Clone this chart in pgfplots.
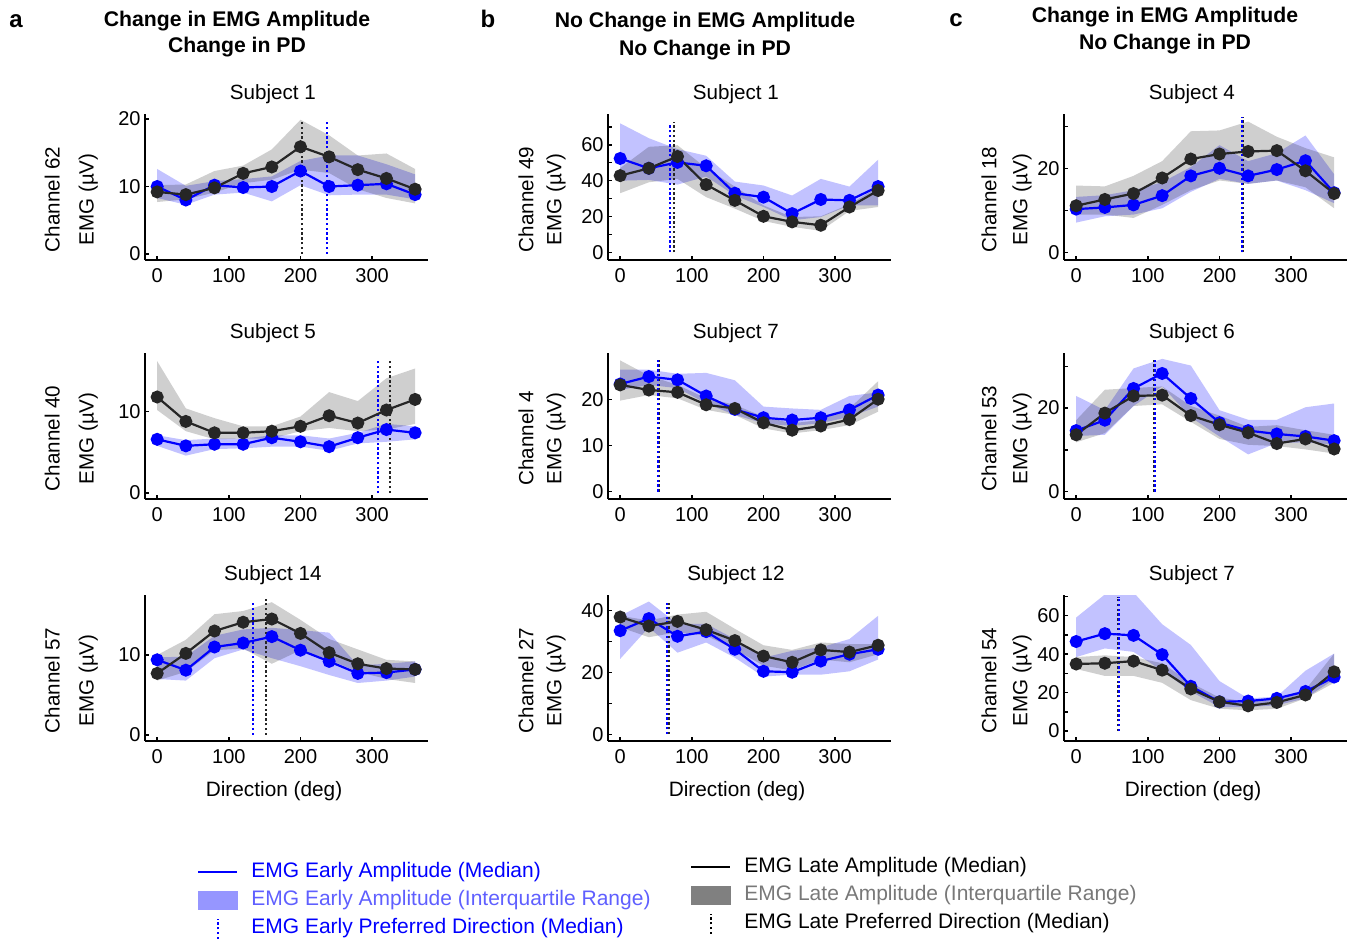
\documentclass[border=0pt]{standalone}
\usepackage{fontspec}
\setmainfont{Liberation Sans}
\usepackage{pgfplots}
\pgfplotsset{compat=1.18}
\usepackage{pgfplotstable}
\usepgfplotslibrary{fillbetween}

\definecolor{lateblack}{RGB}{38,38,38}
\definecolor{earlytxt}{RGB}{95,95,255}
\definecolor{earlyrect}{RGB}{150,150,255}
\definecolor{latetxt}{RGB}{120,120,120}
\definecolor{laterect}{RGB}{128,128,128}

% deg: direction; eb/el/eh: early median, lower and upper quartile; lb/ll/lh: late
\pgfplotstableread{
deg eb el eh lb ll lh
0 10.0 8.3 12.6 9.2 7.7 10.2
40 8.0 7.3 10.1 8.8 8.1 10.3
80 10.2 8.8 10.8 9.8 9.1 12.3
120 9.85 9.1 11.1 11.95 10.5 13.1
160 10.0 7.8 11.5 12.9 11.0 15.5
200 12.3 10.2 13.8 15.9 12.5 19.9
240 10.0 8.7 14.6 14.4 12.0 17.6
280 10.2 8.8 14.6 12.5 9.6 14.6
320 10.4 8.8 13.3 11.2 8.3 14.9
360 8.8 8.1 11.8 9.6 7.5 12.6
}\tAa
\pgfplotstableread{
deg eb el eh lb ll lh
0 52.4 40.0 72.0 42.8 33.0 47.0
40 46.9 40.4 63.7 46.9 39.1 58.9
80 50.2 37.8 57.6 53.5 41.0 59.8
120 48.3 42.3 53.9 37.8 30.8 47.0
160 33.0 31.7 39.5 29.0 24.4 36.7
200 30.8 25.3 37.3 20.1 17.5 26.2
240 21.6 17.9 31.7 17.0 14.2 19.7
280 29.5 19.7 41.0 15.1 12.0 20.1
320 29.0 26.2 36.7 25.3 23.1 26.8
360 36.7 26.2 51.7 34.5 25.3 36.3
}\tBa
\pgfplotstableread{
deg eb el eh lb ll lh
0 10.3 7.1 13.2 11.1 9.0 15.9
40 10.7 8.6 13.6 12.6 9.0 15.7
80 11.3 9.0 14.8 14.0 8.2 18.2
120 13.5 10.5 16.7 17.7 11.3 21.7
160 18.2 14.4 20.3 22.2 14.8 28.8
200 20.0 17.5 25.5 23.4 17.1 29.0
240 18.2 16.3 21.7 24.0 16.3 31.1
280 19.7 17.1 23.6 24.2 17.1 27.5
320 21.8 14.8 27.8 19.4 15.5 24.8
360 14.2 11.7 18.6 14.0 10.5 22.6
}\tCa
\pgfplotstableread{
deg eb el eh lb ll lh
0 6.6 5.8 7.1 11.8 10.2 16.2
40 5.8 4.6 6.5 8.8 7.6 10.4
80 6.0 5.4 6.7 7.4 6.6 9.2
120 6.0 5.5 6.7 7.4 6.7 8.2
160 6.8 5.7 7.1 7.6 6.7 8.2
200 6.3 5.7 7.1 8.2 7.6 9.4
240 5.7 5.2 6.7 9.5 8.0 12.4
280 6.8 6.1 7.4 8.6 7.6 11.3
320 7.8 6.3 8.5 10.2 7.8 14.1
360 7.4 6.6 8.2 11.5 8.5 15.3
}\tAb
\pgfplotstableread{
deg eb el eh lb ll lh
0 23.3 22.0 26.4 23.1 19.7 28.4
40 24.9 23.1 26.4 22.0 20.9 25.1
80 24.2 22.4 25.5 21.5 20.2 23.1
120 20.7 19.1 25.7 18.8 17.7 20.2
160 17.8 16.6 24.1 18.0 16.6 18.8
200 16.0 14.8 18.4 14.9 13.7 16.2
240 15.5 14.2 18.0 13.3 12.6 14.8
280 16.0 14.8 17.7 14.2 13.3 15.5
320 17.7 16.2 20.7 15.6 14.4 18.0
360 20.9 18.4 21.5 20.0 17.3 23.9
}\tBb
\pgfplotstableread{
deg eb el eh lb ll lh
0 14.6 13.3 22.9 13.6 11.8 17.1
40 17.1 13.6 19.5 18.8 14.0 24.4
80 24.7 20.5 29.5 22.9 20.5 24.8
120 28.3 25.2 31.8 23.1 20.9 25.2
160 22.3 17.8 30.2 18.2 16.7 20.5
200 16.5 13.2 19.5 16.0 12.6 18.2
240 14.6 8.9 17.2 14.1 11.2 15.5
280 13.8 11.6 17.2 11.5 10.9 15.9
320 13.2 11.8 20.2 12.6 10.1 14.7
360 12.2 11.2 21.1 10.2 9.1 13.6
}\tCb
\pgfplotstableread{
deg eb el eh lb ll lh
0 9.4 7.0 9.7 7.7 6.8 10.0
40 8.1 6.8 9.8 10.2 7.9 11.9
80 11.0 9.6 12.4 13.0 10.6 15.1
120 11.5 10.7 13.2 14.1 10.8 15.5
160 12.3 9.6 13.4 14.5 8.9 16.6
200 10.6 8.6 13.1 12.7 10.6 14.4
240 9.2 7.5 12.8 10.3 9.4 12.0
280 7.7 6.5 8.7 8.9 7.9 10.7
320 7.8 6.8 8.9 8.3 7.0 9.4
360 8.2 7.3 9.2 8.2 6.5 9.2
}\tAc
\pgfplotstableread{
deg eb el eh lb ll lh
0 33.4 24.3 38.2 37.8 34.5 38.2
40 37.3 34.5 42.8 34.9 31.3 36.7
80 31.6 26.3 35.6 36.4 32.9 38.6
120 33.1 29.6 35.6 33.7 31.8 39.5
160 27.4 24.7 30.7 30.2 27.4 34.0
200 20.3 18.6 24.7 25.2 22.1 28.7
240 20.0 19.2 26.9 23.2 20.6 27.2
280 23.6 19.2 28.0 27.2 24.1 29.6
320 25.8 20.3 30.7 26.5 23.2 29.1
360 27.4 24.1 38.2 28.7 25.8 29.1
}\tBc
\pgfplotstableread{
deg eb el eh lb ll lh
0 46.6 38.5 59.1 34.9 32.3 38.5
40 50.7 43.0 71.1 35.3 28.7 39.4
80 49.8 41.2 72.2 36.4 28.7 38.5
120 39.8 31.4 55.6 31.7 25.1 35.3
160 23.3 20.6 44.8 21.9 16.1 25.1
200 15.2 12.5 26.0 15.2 11.6 17.4
240 15.6 12.5 17.0 13.1 10.8 15.2
280 17.0 13.4 17.9 14.9 11.6 17.0
320 20.6 17.0 31.4 18.8 17.0 21.5
360 28.1 26.9 40.3 30.8 25.1 40.3
}\tCc

\pgfplotsset{
  panel/.style={
    scale only axis, width=141.5pt, height=73pt, anchor=south west,
    xmin=-17, xmax=378, xtick={0,100,200,300},
    axis x line*=bottom, axis y line*=left,
    axis line style={line width=0.7pt, black},
    tick align=inside, major tick length=2pt, minor tick length=2pt,
    every tick/.style={black, line width=0.7pt},
    tick label style={font=\fontsize{10}{12}\selectfont},
    /pgf/number format/assume math mode=true,
    xticklabel style={inner sep=0pt, yshift=-4pt},
    yticklabel style={inner xsep=2pt},
    title style={at={(axis description cs:0.452,1)}, anchor=base, yshift=1.5pt,
      inner sep=0pt, font=\fontsize{10.3}{12}\selectfont},
    xlabel style={at={(axis description cs:0.456,0)}, anchor=base, yshift=-27.5pt,
      inner sep=0pt, font=\fontsize{10.4}{12}\selectfont},
  },
  ylA/.style={ylabel style={at={(axis description cs:-0.165,0.415)}, anchor=south,
      align=center, inner sep=0pt, font=\fontsize{10.3}{17}\selectfont}},
  ylB/.style={ylabel style={at={(axis description cs:-0.148,0.415)}, anchor=south,
      align=center, inner sep=0pt, font=\fontsize{10.3}{14}\selectfont}},
  ylC/.style={ylabel style={at={(axis description cs:-0.113,0.415)}, anchor=south,
      align=center, inner sep=0pt, font=\fontsize{10.3}{15.5}\selectfont}},
  legax/.style={hide axis, scale only axis, width=1pt, height=1pt,
    xmin=0, xmax=1, ymin=0, ymax=1, anchor=north west,
    legend style={at={(0,1)}, anchor=north west, draw=none, fill=none,
      inner sep=0pt, row sep=3.5pt, column sep=6.5pt,
      font=\fontsize{10.5}{12}\selectfont,
      nodes={inner xsep=0pt, inner ysep=0pt, text height=7.75pt, text depth=2.75pt}},
    legend cell align=left},
}

\newcommand{\drawpanel}[5]{%
  \addplot[name path=EH, draw=none] table[x=deg,y=eh]{#1};
  \addplot[name path=EL, draw=none] table[x=deg,y=el]{#1};
  \addplot[fill=blue, fill opacity=0.24, draw=none] fill between[of=EH and EL];
  \addplot[name path=LH, draw=none] table[x=deg,y=lh]{#1};
  \addplot[name path=LL, draw=none] table[x=deg,y=ll]{#1};
  \addplot[fill=black, fill opacity=0.19, draw=none] fill between[of=LH and LL];
  \addplot[lateblack, line width=1pt, dash pattern=on 1.2pt off 1.2pt] coordinates {(#4,0) (#4,#5)};
  \addplot[blue, line width=1pt, dash pattern=on 1.2pt off 1.2pt] coordinates {(#2,0) (#2,#3)};
  \addplot[blue, line width=1.1pt, mark=*, mark size=2.7pt, mark options={solid}] table[x=deg,y=eb]{#1};
  \addplot[lateblack, line width=1.1pt, mark=*, mark size=2.7pt, mark options={solid}] table[x=deg,y=lb]{#1};
}

\begin{document}
\begin{tikzpicture}
\path (0pt,0pt) rectangle (679pt,470pt);

% headers
\node[font=\bfseries\fontsize{12}{14}\selectfont, anchor=base] at (8pt,456.5pt) {a};
\node[font=\bfseries\fontsize{12}{14}\selectfont, anchor=base] at (244pt,456.5pt) {b};
\node[font=\bfseries\fontsize{12}{14}\selectfont, anchor=base] at (478pt,457pt) {c};
\node[font=\bfseries\fontsize{10.6}{13}\selectfont, anchor=base] at (118.5pt,457pt) {Change in EMG Amplitude};
\node[font=\bfseries\fontsize{10.6}{13}\selectfont, anchor=base] at (118.5pt,443.6pt) {Change in PD};
\node[font=\bfseries\fontsize{10.6}{13}\selectfont, anchor=base] at (352.5pt,456.5pt) {No Change in EMG Amplitude};
\node[font=\bfseries\fontsize{10.6}{13}\selectfont, anchor=base] at (352.5pt,442.5pt) {No Change in PD};
\node[font=\bfseries\fontsize{10.6}{13}\selectfont, anchor=base] at (582.5pt,459pt) {Change in EMG Amplitude};
\node[font=\bfseries\fontsize{10.6}{13}\selectfont, anchor=base] at (582.5pt,445.3pt) {No Change in PD};

% row 1
\begin{axis}[panel, ylA, at={(72.5pt,340pt)}, ymin=-0.9, ymax=20.75, ytick={0,10,20},
  title={Subject 1}, ylabel={Channel 62\\EMG (µV)}]
\drawpanel{\tAa}{237}{19.6}{202}{19.9}
\end{axis}
\begin{axis}[panel, ylB, at={(304pt,340pt)}, ymin=-4.3, ymax=77.2, ytick={0,20,40,60},
  minor ytick={10,30,50,70}, title={Subject 1}, ylabel={Channel 49\\EMG (µV)}]
\drawpanel{\tBa}{70}{71.4}{75}{72.9}
\end{axis}
\begin{axis}[panel, ylC, at={(532pt,340pt)}, ymin=-1.8, ymax=32.9, ytick={0,20},
  minor ytick={10,30}, title={Subject 4}, ylabel={Channel 18\\EMG (µV)}]
\drawpanel{\tCa}{231}{32.2}{232.5}{32.2}
\end{axis}

% row 2
\begin{axis}[panel, ylA, at={(72.5pt,220.5pt)}, ymin=-0.73, ymax=17.2, ytick={0,10},
  title={Subject 5}, ylabel={Channel 40\\EMG (µV)}]
\drawpanel{\tAb}{308}{16.2}{325}{16.5}
\end{axis}
\begin{axis}[panel, ylB, at={(304pt,220.5pt)}, ymin=-1.6, ymax=30.0, ytick={0,10,20},
  title={Subject 7}, ylabel={Channel 4\\EMG (µV)}]
\drawpanel{\tBb}{53}{29}{54.5}{29}
\end{axis}
\begin{axis}[panel, ylC, at={(532pt,220.5pt)}, ymin=-1.8, ymax=33.2, ytick={0,20},
  minor ytick={10,30}, title={Subject 6}, ylabel={Channel 53\\EMG (µV)}]
\drawpanel{\tCb}{109.5}{32.2}{108.5}{32.2}
\end{axis}

% row 3
\begin{axis}[panel, ylA, at={(72.5pt,99.5pt)}, ymin=-0.76, ymax=17.5, ytick={0,10},
  title={Subject 14}, ylabel={Channel 57\\EMG (µV)}, xlabel={Direction (deg)}]
\drawpanel{\tAc}{134}{16.5}{152}{17}
\end{axis}
\begin{axis}[panel, ylB, at={(304pt,99.5pt)}, ymin=-2.2, ymax=44.9, ytick={0,20,40},
  minor ytick={10,30}, title={Subject 12}, ylabel={Channel 27\\EMG (µV)}, xlabel={Direction (deg)}]
\drawpanel{\tBc}{66}{42.2}{67.5}{42.2}
\end{axis}
\begin{axis}[panel, ylC, at={(532pt,99.5pt)}, ymin=-5.2, ymax=70.8, ytick={0,20,40,60},
  minor ytick={10,30,50,70}, title={Subject 7}, ylabel={Channel 54\\EMG (µV)}, xlabel={Direction (deg)}]
\drawpanel{\tCc}{60}{70}{59}{70}
\end{axis}

% legends
\begin{axis}[legax, at={(98.5pt,39.25pt)}]
\addplot[draw=none, forget plot] coordinates {(0,0) (1,1)};
\addlegendimage{legend image code/.code={\draw[blue, line width=1pt] (0pt,0pt) -- (19.5pt,0pt);}}
\addlegendentry{\textcolor{blue}{EMG Early Amplitude (Median)}}
\addlegendimage{legend image code/.code={\fill[earlyrect] (0pt,-4.5pt) rectangle (19.5pt,4.5pt);}}
\addlegendentry{\textcolor{earlytxt}{EMG Early Amplitude (Interquartile Range)}}
\addlegendimage{legend image code/.code={\draw[blue, line width=1pt, dash pattern=on 1.2pt off 1.2pt] (9.75pt,-5pt) -- (9.75pt,5pt);}}
\addlegendentry{\textcolor{blue}{EMG Early Preferred Direction (Median)}}
\end{axis}
\begin{axis}[legax, at={(345pt,41.75pt)}]
\addplot[draw=none, forget plot] coordinates {(0,0) (1,1)};
\addlegendimage{legend image code/.code={\draw[black, line width=1pt] (0pt,0pt) -- (19.5pt,0pt);}}
\addlegendentry{EMG Late Amplitude (Median)}
\addlegendimage{legend image code/.code={\fill[laterect] (0pt,-4.5pt) rectangle (19.5pt,4.5pt);}}
\addlegendentry{\textcolor{latetxt}{EMG Late Amplitude (Interquartile Range)}}
\addlegendimage{legend image code/.code={\draw[black, line width=1pt, dash pattern=on 1.2pt off 1.2pt] (9.75pt,-5pt) -- (9.75pt,5pt);}}
\addlegendentry{EMG Late Preferred Direction (Median)}
\end{axis}
\end{tikzpicture}
\end{document}
